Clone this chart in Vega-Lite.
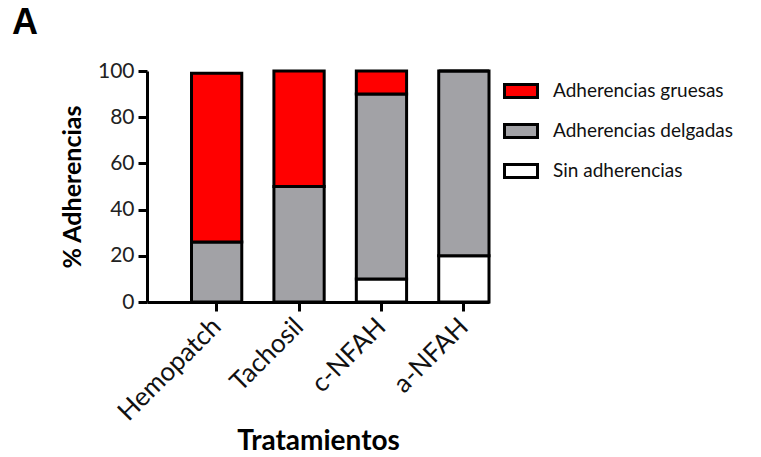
{
  "$schema": "https://vega.github.io/schema/vega-lite/v6.json",
  "autosize": "none",
  "width": 342,
  "height": 231,
  "padding": {"left": 147, "top": 71, "right": 272, "bottom": 155},
  "background": "white",
  "title": {"text": "A", "anchor": "start", "frame": "group", "fontSize": 36, "fontWeight": "bold", "font": "Liberation Sans", "color": "black", "dx": -135, "offset": 18},
  "data": {"values": [
    {"trat": "Hemopatch", "tipo": "Sin adherencias", "ord": 1, "valor": 0},
    {"trat": "Hemopatch", "tipo": "Adherencias delgadas", "ord": 2, "valor": 26},
    {"trat": "Hemopatch", "tipo": "Adherencias gruesas", "ord": 3, "valor": 73},
    {"trat": "Tachosil", "tipo": "Sin adherencias", "ord": 1, "valor": 0},
    {"trat": "Tachosil", "tipo": "Adherencias delgadas", "ord": 2, "valor": 50},
    {"trat": "Tachosil", "tipo": "Adherencias gruesas", "ord": 3, "valor": 50},
    {"trat": "c-NFAH", "tipo": "Sin adherencias", "ord": 1, "valor": 10},
    {"trat": "c-NFAH", "tipo": "Adherencias delgadas", "ord": 2, "valor": 80},
    {"trat": "c-NFAH", "tipo": "Adherencias gruesas", "ord": 3, "valor": 10},
    {"trat": "a-NFAH", "tipo": "Sin adherencias", "ord": 1, "valor": 20},
    {"trat": "a-NFAH", "tipo": "Adherencias delgadas", "ord": 2, "valor": 80},
    {"trat": "a-NFAH", "tipo": "Adherencias gruesas", "ord": 3, "valor": 0}
  ]},
  "mark": {"type": "bar", "stroke": "black", "strokeWidth": 3, "opacity": 1},
  "encoding": {
    "x": {"field": "trat", "type": "nominal", "sort": ["Hemopatch", "Tachosil", "c-NFAH", "a-NFAH"],
      "scale": {"paddingInner": 0.39, "paddingOuter": 0.27, "align": 1},
      "axis": {"title": "Tratamientos", "titleFontSize": 28, "titleFontWeight": "bold", "titleColor": "black", "titlePadding": 2,
        "labelAngle": -45, "labelFontSize": 26, "labelColor": "#111", "labelPadding": 2, "labelOffset": -9,
        "domainColor": "black", "domainWidth": 3, "tickColor": "black", "tickWidth": 3, "tickSize": 9}},
    "y": {"field": "valor", "type": "quantitative", "stack": "zero",
      "scale": {"domain": [0, 100], "nice": false},
      "axis": {"title": "% Adherencias", "titleFontSize": 25, "titleFontWeight": "bold", "titleColor": "black", "titlePadding": 12,
        "values": [0, 20, 40, 60, 80, 100], "grid": false, "labelFontSize": 21, "labelColor": "#222", "labelPadding": 4,
        "domainColor": "black", "domainWidth": 3, "tickColor": "black", "tickWidth": 3, "tickSize": 9}},
    "color": {"field": "tipo", "type": "nominal",
      "scale": {"domain": ["Adherencias gruesas", "Adherencias delgadas", "Sin adherencias"], "range": ["#ff0000", "#a2a2a6", "#ffffff"]},
      "legend": {"title": null, "orient": "none", "legendX": 356, "legendY": 2, "padding": 0,
        "symbolType": "M-1,-0.4H1V0.4H-1Z", "symbolSize": 1089, "symbolStrokeColor": "black", "symbolStrokeWidth": 3, "symbolOpacity": 1,
        "labelFontSize": 19, "labelColor": "#111", "labelOffset": 14, "rowPadding": 9, "labelLimit": 300}},
    "order": {"field": "ord", "type": "quantitative"}
  },
  "config": {
    "font": "Lato",
    "view": {"stroke": null},
    "axis": {"labelFont": "Lato", "titleFont": "Lato"},
    "legend": {"labelFont": "Lato"}
  }
}
